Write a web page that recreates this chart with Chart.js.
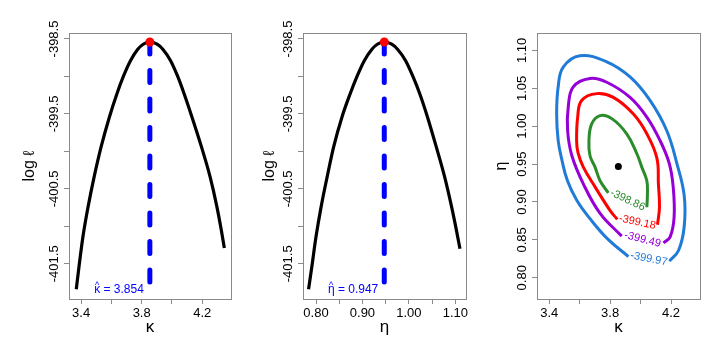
<!DOCTYPE html>
<html>
<head>
<meta charset="utf-8">
<script src="https://cdn.jsdelivr.net/npm/chart.js@4.4.1/dist/chart.umd.min.js"></script>
<style>
  html, body { margin: 0; padding: 0; background: #fff; }
  #wrap { position: relative; width: 720px; height: 350px; }
  .panel { position: absolute; top: 0; width: 240px; height: 350px; }
</style>
</head>
<body>
<div id="wrap">
  <div class="panel" style="left:0"><canvas id="chart-kappa" width="240" height="350"></canvas></div>
  <div class="panel" style="left:240px"><canvas id="chart-eta" width="240" height="350"></canvas></div>
  <div class="panel" style="left:480px"><canvas id="chart-contour" width="240" height="350"></canvas></div>
</div>
<script>
// estimates
const KAPPA_HAT = 3.854;
const ETA_HAT = 0.947;
const LOGLIK_MAX = -398.54;
const LOGLIK_MIN = -401.84;

// profile log-likelihood in kappa
const KAPPA_GRID = [3.368, 3.386, 3.412, 3.446, 3.486, 3.532, 3.587, 3.635, 3.681, 3.726, 3.773, 3.810,
  3.854, 3.902, 3.941, 3.991, 4.036, 4.082, 4.132, 4.195, 4.252, 4.297, 4.325, 4.346];
const PROFILE_KAPPA = [-401.84, -401.54, -401.14, -400.74, -400.34, -399.94, -399.54, -399.24, -398.99, -398.79, -398.64, -398.57,
  -398.54, -398.57, -398.64, -398.79, -398.99, -399.24, -399.54, -399.94, -400.34, -400.74, -401.04, -401.29];

// profile log-likelihood in eta
const ETA_GRID = [0.784, 0.791, 0.800, 0.811, 0.824, 0.838, 0.856, 0.873, 0.889, 0.904, 0.920, 0.932,
  0.947, 0.963, 0.976, 0.993, 1.008, 1.024, 1.040, 1.059, 1.077, 1.092, 1.102, 1.110];
const PROFILE_ETA = [-401.84, -401.54, -401.14, -400.74, -400.34, -399.94, -399.54, -399.24, -398.99, -398.79, -398.64, -398.57,
  -398.54, -398.57, -398.64, -398.79, -398.99, -399.24, -399.54, -399.94, -400.34, -400.74, -401.04, -401.30];

const CONTOUR_LEVELS = ["-398.86", "-399.18", "-399.49", "-399.97"];
const GREEN_KAPPA = [3.788, 3.734, 3.701, 3.668, 3.661, 3.679, 3.734, 3.811, 3.909, 3.975, 4.008, 4.041, 4.045, 4.041];
const GREEN_ETA = [0.912, 0.928, 0.946, 0.961, 0.981, 1.003, 1.014, 1.010, 0.990, 0.964, 0.946, 0.928, 0.911, 0.893];
const RED_KAPPA = [3.847, 3.799, 3.701, 3.624, 3.589, 3.580, 3.587, 3.613, 3.712, 3.821, 3.953, 4.041, 4.107, 4.117, 4.124, 4.111];
const RED_ETA = [0.877, 0.889, 0.920, 0.946, 0.965, 0.981, 1.012, 1.034, 1.043, 1.038, 1.016, 0.990, 0.958, 0.924, 0.893, 0.870];
const PURPLE_KAPPA = [3.876, 3.734, 3.624, 3.549, 3.521, 3.525, 3.558, 3.668, 3.778, 3.931, 4.041, 4.128, 4.188, 4.214, 4.220, 4.194, 4.150];
const PURPLE_ETA = [0.855, 0.885, 0.924, 0.961, 0.994, 1.025, 1.052, 1.063, 1.058, 1.038, 1.012, 0.981, 0.951, 0.920, 0.880, 0.854, 0.846];
const BLUE_KAPPA = [3.920, 3.780, 3.668, 3.582, 3.520, 3.484, 3.459, 3.449, 3.459, 3.492, 3.602, 3.778, 3.931, 4.062, 4.172, 4.238, 4.286, 4.286, 4.249, 4.189];
const BLUE_ETA = [0.828, 0.852, 0.878, 0.902, 0.928, 0.955, 0.981, 1.016, 1.052, 1.078, 1.093, 1.085, 1.065, 1.034, 0.994, 0.951, 0.909, 0.867, 0.836, 0.822];

// ticks
const LOGLIK_TICKS = [-401.5, -401, -400.5, -400, -399.5, -399, -398.5];
const LOGLIK_LABELS = ["-401.5", "", "-400.5", "", "-399.5", "", "-398.5"];
const KAPPA_TICKS = [3.4, 3.6, 3.8, 4.0, 4.2];
const KAPPA_LABELS = ["3.4", "", "3.8", "", "4.2"];
const ETA_TICKS = [0.80, 0.85, 0.90, 0.95, 1.00, 1.05, 1.10];
const ETA_LABELS = ["0.80", "", "0.90", "", "1.00", "", "1.10"];
const ETA_LABELS_ALL = ["0.80", "0.85", "0.90", "0.95", "1.00", "1.05", "1.10"];

const FONT = "'Liberation Sans', Arial, sans-serif";
const FRAME = "#8a8a8a";
const COLORS = {
  green: "#2a8c2a",
  red: "#ff0000",
  purple: "#9600d6",
  blue: "#1f7bd6",
  hat: "#0000ff",
};

Chart.defaults.font.family = FONT;
Chart.defaults.color = "#000";

const pts = (xs, ys) => xs.map((x, i) => ({ x, y: ys[i] }));

// box round the plot + y labels rotated like R
const rFrame = {
  id: "rFrame",
  afterDraw(chart) {
    const { ctx, chartArea: a } = chart;
    const ys = chart.scales.y;
    ctx.save();
    ctx.strokeStyle = FRAME;
    ctx.lineWidth = 1;
    ctx.strokeRect(a.left + 0.5, a.top + 0.5, a.right - a.left, a.bottom - a.top);
    ctx.fillStyle = "#000";
    ctx.font = "13px " + FONT;
    ctx.textAlign = "center";
    ctx.textBaseline = "alphabetic";
    ys.ticks.forEach((t) => {
      if (!t.label) return;
      const y = ys.getPixelForValue(t.value);
      ctx.save();
      ctx.translate(a.left - 11, y);
      ctx.rotate(-Math.PI / 2);
      ctx.fillText(t.label, 0, 0);
      ctx.restore();
    });
    ctx.restore();
  },
};

function scaleX(min, max, ticks, labels, title) {
  return {
    type: "linear",
    min,
    max,
    afterBuildTicks: (s) => { s.ticks = ticks.map((v) => ({ value: v })); },
    afterFit: (s) => { s.height = 51; },
    ticks: {
      callback: (v, i) => labels[i],
      autoSkip: false,
      maxRotation: 0,
      padding: 2,
      font: { size: 13 },
      color: "#000",
    },
    grid: { drawOnChartArea: false, drawTicks: true, tickLength: 5, color: FRAME },
    border: { display: false },
    title: { display: true, text: title, font: { size: 17 }, padding: { top: 0, bottom: 12 }, color: "#000" },
  };
}

function scaleY(min, max, ticks, labels, title, width, titlePad) {
  return {
    type: "linear",
    min,
    max,
    afterBuildTicks: (s) => { s.ticks = ticks.map((v) => ({ value: v })); },
    afterFit: (s) => { s.width = width; },
    ticks: { display: false, callback: (v, i) => labels[i] },
    grid: { drawOnChartArea: false, drawTicks: true, tickLength: 5, color: FRAME },
    border: { display: false },
    title: { display: true, text: title, font: { size: 16 }, padding: { top: titlePad, bottom: 0 }, color: "#000" },
  };
}

// "x-hat = value" next to the foot of the dashed line
function hatLabel(symbol, valueText, xHat) {
  return {
    id: "hatLabel",
    afterDatasetsDraw(chart) {
      const { ctx } = chart;
      const right = chart.scales.x.getPixelForValue(xHat) - 6;
      const y = chart.scales.y.getPixelForValue(LOGLIK_MIN) + 4;
      ctx.save();
      ctx.fillStyle = COLORS.hat;
      ctx.font = "12px " + FONT;
      ctx.textAlign = "left";
      const rest = " = " + valueText;
      const wSym = ctx.measureText(symbol).width;
      const wRest = ctx.measureText(rest).width;
      const x0 = right - wSym - wRest;
      ctx.fillText(symbol, x0, y);
      ctx.fillText(rest, x0 + wSym, y);
      ctx.font = "9px " + FONT;
      ctx.textAlign = "center";
      ctx.fillText("^", x0 + wSym / 2, y - 5);
      ctx.restore();
    },
  };
}

function profileChart(id, grid, prof, xHat, xMin, xMax, xTicks, xLabels, xTitle, areaLeft, areaRight, hatValue) {
  return new Chart(document.getElementById(id), {
    type: "scatter",
    data: {
      datasets: [
        {
          data: [{ x: xHat, y: LOGLIK_MAX }],
          pointRadius: 4.5,
          backgroundColor: COLORS.red,
          borderWidth: 0,
        },
        {
          data: [{ x: xHat, y: LOGLIK_MAX }, { x: xHat, y: LOGLIK_MIN }],
          showLine: true,
          pointRadius: 0,
          borderColor: COLORS.hat,
          borderWidth: 5,
          borderDash: [12, 16.5],
          borderCapStyle: "round",
        },
        {
          data: pts(grid, prof),
          showLine: true,
          pointRadius: 0,
          borderColor: "#000",
          borderWidth: 3.2,
          cubicInterpolationMode: "monotone",
        },
      ],
    },
    options: {
      responsive: false,
      animation: false,
      layout: { padding: { left: 0, right: 240 - areaRight, top: 33, bottom: 0 } },
      plugins: { legend: { display: false }, tooltip: { enabled: false } },
      scales: {
        x: scaleX(xMin, xMax, xTicks, xLabels, xTitle),
        y: scaleY(-401.97, -398.42, LOGLIK_TICKS, LOGLIK_LABELS, "log \u2113", areaLeft, 20),
      },
    },
    plugins: [rFrame, hatLabel(xTitle, hatValue, xHat)],
  });
}

profileChart("chart-kappa", KAPPA_GRID, PROFILE_KAPPA, KAPPA_HAT, 3.32, 4.39,
  KAPPA_TICKS, KAPPA_LABELS, "\u03ba", 69, 231, "3.854");
profileChart("chart-eta", ETA_GRID, PROFILE_ETA, ETA_HAT, 0.772, 1.123,
  ETA_TICKS, ETA_LABELS, "\u03b7", 63, 226, "0.947");

// ── contour panel ──
const contourLabels = {
  id: "contourLabels",
  afterDatasetsDraw(chart) {
    const { ctx } = chart;
    ctx.save();
    ctx.font = "11px " + FONT;
    ctx.textAlign = "center";
    ctx.textBaseline = "middle";
    chart.data.datasets.forEach((ds, i) => {
      if (!ds.levelLabel) return;
      const pe = chart.getDatasetMeta(i).data;
      const p0 = pe[0], p1 = pe[pe.length - 1];
      const ang = Math.atan2(p1.y - p0.y, p1.x - p0.x) + 0.08;
      ctx.save();
      ctx.translate((p0.x + p1.x) / 2, (p0.y + p1.y) / 2);
      ctx.rotate(ang);
      ctx.fillStyle = ds.borderColor;
      ctx.fillText(ds.levelLabel, 0, 0);
      ctx.restore();
    });
    ctx.restore();
  },
};

const contourSet = (xs, ys, color, label) => ({
  data: pts(xs, ys),
  showLine: true,
  pointRadius: 0,
  borderColor: color,
  borderWidth: 3,
  tension: 0.4,
  levelLabel: label,
});

new Chart(document.getElementById("chart-contour"), {
  type: "scatter",
  data: {
    datasets: [
      { data: [{ x: KAPPA_HAT, y: ETA_HAT }], pointRadius: 3.5, backgroundColor: "#000", borderWidth: 0 },
      contourSet(GREEN_KAPPA, GREEN_ETA, COLORS.green, CONTOUR_LEVELS[0]),
      contourSet(RED_KAPPA, RED_ETA, COLORS.red, CONTOUR_LEVELS[1]),
      contourSet(PURPLE_KAPPA, PURPLE_ETA, COLORS.purple, CONTOUR_LEVELS[2]),
      contourSet(BLUE_KAPPA, BLUE_ETA, COLORS.blue, CONTOUR_LEVELS[3]),
    ],
  },
  options: {
    responsive: false,
    animation: false,
    layout: { padding: { left: 0, right: 20, top: 33, bottom: 0 } },
    plugins: { legend: { display: false }, tooltip: { enabled: false } },
    scales: {
      x: scaleX(3.32, 4.39, KAPPA_TICKS, KAPPA_LABELS, "\u03ba"),
      y: scaleY(0.772, 1.123, ETA_TICKS, ETA_LABELS_ALL, "\u03b7", 57, 12),
    },
  },
  plugins: [rFrame, contourLabels],
});
</script>
</body>
</html>
